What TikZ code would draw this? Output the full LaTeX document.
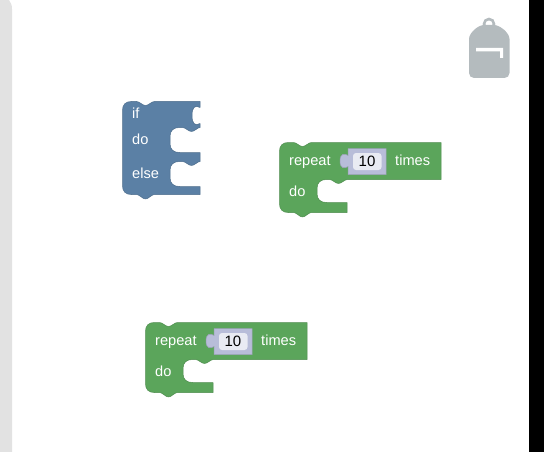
\documentclass[tikz,border=0pt]{standalone}
\usepackage{fontspec}
\setmainfont{Liberation Sans}
\definecolor{blkblue}{RGB}{91,128,165}
\definecolor{blkgreen}{RGB}{91,165,91}
\definecolor{blklav}{RGB}{184,189,217}
\definecolor{blkfield}{RGB}{233,235,243}
\definecolor{bagray}{RGB}{180,187,190}
\definecolor{sidegray}{RGB}{226,226,226}
\usetikzlibrary{positioning}
\tikzset{
  blocktext/.style={text=white, font=\fontsize{14.6}{16}\selectfont, inner sep=0pt, anchor=base west},
  fieldtext/.style={text=black, font=\fontsize{15}{16}\selectfont, inner sep=0pt, anchor=base},
  blockbody/.style={draw=#1!85!black, fill=#1, line width=0.5pt, line join=round},
}
% one repeat block, top left corner at x,y
\newcommand{\repeatblock}[3]{
  \begin{scope}[shift={(#2,#3)}]
    \draw[blockbody=blkgreen] (0,9) .. controls (0,3) and (3,0) .. (9,0) -- (14,0)
      .. controls (17,0) and (20,4) .. (23,4) .. controls (26,4) and (29,0) .. (32,0)
      -- (161.5,0) -- (161.5,37) -- (68,37)
      .. controls (65,37) and (62,41) .. (59,41) .. controls (56,41) and (53,37) .. (50,37)
      -- (47,37) .. controls (41,37) and (37.5,40) .. (37.5,46) -- (37.5,51) .. controls (37.5,57) and (41,60) .. (47,60)
      -- (67.5,60) -- (67.5,70) -- (32,70)
      .. controls (29,70) and (26,74.5) .. (23,74.5) .. controls (20,74.5) and (17,70) .. (14,70)
      -- (9,70) .. controls (3,70) and (0,67) .. (0,61) -- cycle;
    \draw[fill=blklav, draw=blklav!85!black, line width=0.5pt] (68.5,6) -- (106.5,6) -- (106.5,32) -- (68.5,32) -- (68.5,24)
      .. controls (65,26.5) and (60.5,26) .. (60.5,18.5) .. controls (60.5,11) and (65,10.5) .. (68.5,13) -- cycle;
    \fill[blkfield, rounded corners=3pt] (73.5,10.5) rectangle (102,27.5);
    \node[blocktext] (#1rep) at (9.5,23) {repeat};
    \node[fieldtext] (#1num) at (87.5,24) {10};
    \node[blocktext] (#1tim) at (115.5,23) {times};
    \node[blocktext] (#1do) at (9.5,54) {do};
  \end{scope}
}
\begin{document}
\begin{tikzpicture}[x=1pt, y=-1pt]
\useasboundingbox (0,0) rectangle (544,452);

% side panels
\fill[sidegray] (0,0) -- (9,0) .. controls (11,3) and (12,5) .. (12,9) -- (12,452) -- (0,452) -- cycle;
\fill[black] (529,0) rectangle (544,452);

% if block
\begin{scope}[shift={(122.5,101.5)}]
  \draw[blockbody=blkblue] (0,9) .. controls (0,3) and (3,0) .. (9,0) -- (14,0)
    .. controls (17,0) and (20,4) .. (23,4) .. controls (26,4) and (29,0) .. (32,0)
    -- (77.5,0) -- (77.5,6) .. controls (73,3.5) and (69.5,5) .. (69.5,14) .. controls (69.5,23) and (73,24.5) .. (77.5,22)
    -- (77.5,26)
    .. controls (75,26) and (72,30) .. (69,30) .. controls (66,30) and (63,26) .. (60,26)
    -- (57,26) .. controls (51,26) and (47.5,29) .. (47.5,35) -- (47.5,42) .. controls (47.5,48) and (51,51) .. (57,51)
    -- (77.5,51) -- (77.5,60)
    .. controls (75,60) and (72,64) .. (69,64) .. controls (66,64) and (63,60) .. (60,60)
    -- (57,60) .. controls (51,60) and (47.5,63) .. (47.5,69) -- (47.5,76) .. controls (47.5,82) and (51,85) .. (57,85)
    -- (77.5,85) -- (77.5,93) -- (32,93)
    .. controls (29,93) and (26,97.5) .. (23,97.5) .. controls (20,97.5) and (17,93) .. (14,93)
    -- (9,93) .. controls (3,93) and (0,90) .. (0,84) -- cycle;
  \node[blocktext] (ifl) at (9.5,16.5) {if};
  \node[blocktext] (dol) at (9.5,42.5) {do};
  \node[blocktext] (elsel) at (9.5,76.5) {else};
\end{scope}

% repeat blocks
\repeatblock{ra}{279.5}{142.5}
\repeatblock{rb}{145.5}{322.5}

% backpack
\draw[bagray, line width=2.6pt] (489,24) circle (5);
\fill[bagray, rounded corners=5pt] (469,78) -- (469,44) .. controls (469,33) and (478,25) .. (489,25)
  .. controls (500,25) and (509.5,33) .. (509.5,44) -- (509.5,78) -- cycle;
\fill[white] (476,48) -- (503,48) -- (503,58) -- (500,58) -- (500,51.5) -- (476,51.5) -- cycle;

\end{tikzpicture}
\end{document}
